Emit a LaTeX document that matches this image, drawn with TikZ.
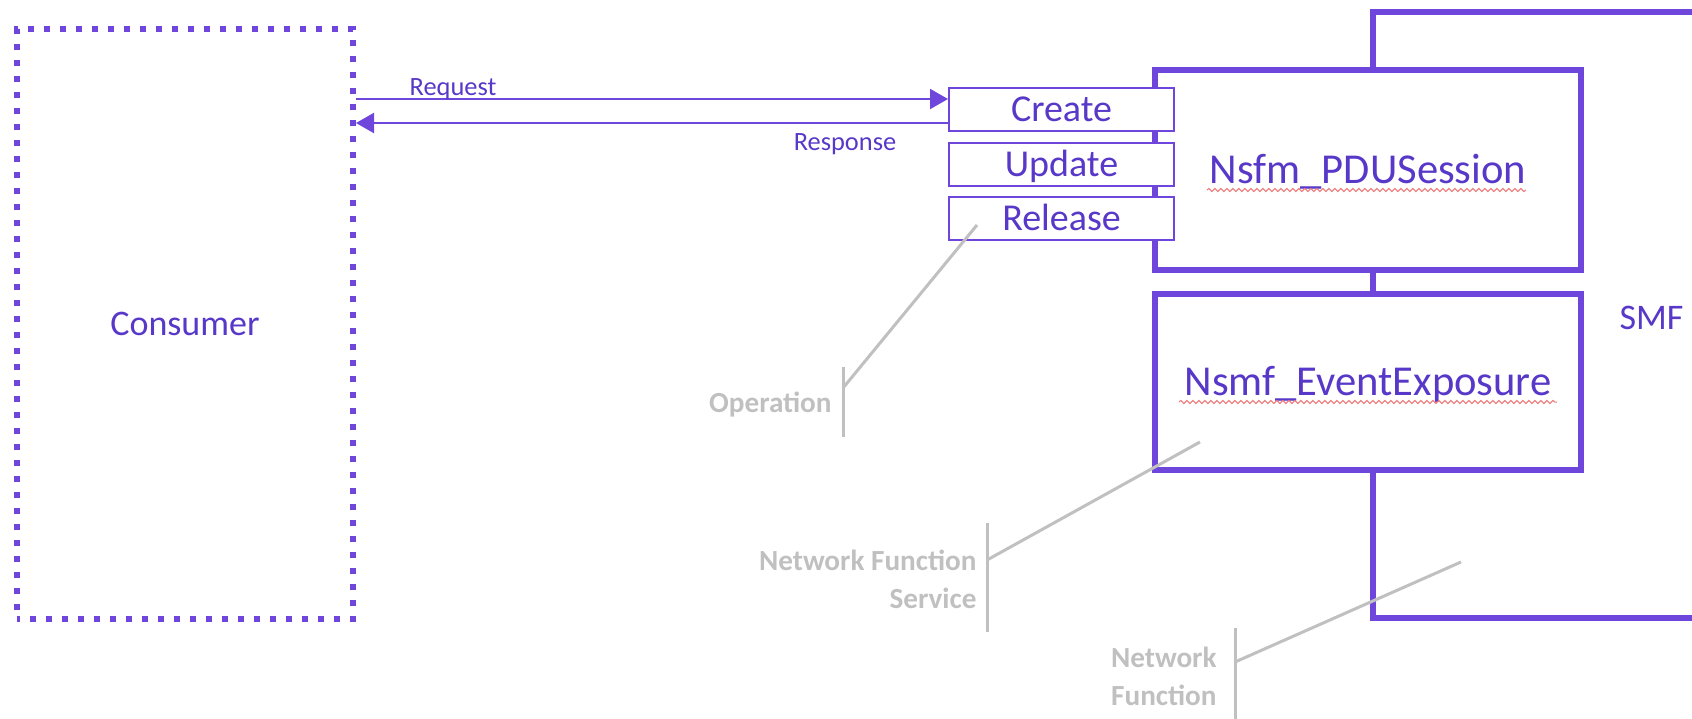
\documentclass[tikz,border=0pt]{standalone}
\usepackage{fontspec}
\setmainfont{Carlito}
\usetikzlibrary{arrows.meta,decorations.pathmorphing}
\definecolor{nfpurple}{RGB}{110,70,220}
\definecolor{nfink}{RGB}{88,56,200}
\definecolor{calloutgrey}{RGB}{192,192,192}
\definecolor{spellred}{RGB}{238,120,120}
\tikzset{
  servicebox/.style={draw=nfpurple, line width=3pt, fill=white, minimum width=213pt,
    inner sep=0pt, text=nfink, font=\fontsize{21.3}{25}\selectfont,
    text height=13.7pt, text depth=0pt},
  opbox/.style={draw=nfpurple, line width=1pt, fill=white, minimum width=112.5pt,
    minimum height=21.5pt, inner sep=0pt, text=nfink, font=\fontsize{19}{22}\selectfont,
    text height=12.2pt, text depth=0pt},
  consumerbox/.style={draw=nfpurple, line width=3pt, dash pattern=on 3pt off 5pt,
    dash phase=1.5pt, minimum width=168pt, minimum height=295pt, inner sep=0pt,
    text=nfink, font=\fontsize{18}{21}\selectfont, text height=11.6pt, text depth=0pt},
  functionframe/.style={draw=nfpurple, line width=3pt},
  biglabel/.style={text=nfink, font=\fontsize{18}{21}\selectfont, inner sep=0pt,
    text height=11.6pt, text depth=0pt},
  message/.style={draw=nfpurple, line width=1pt, -{Triangle[length=9pt,width=10pt]}},
  msglabel/.style={text=nfink, font=\fontsize{13.2}{15}\selectfont, inner sep=0pt,
    text height=8.5pt, text depth=0pt},
  oplabel/.style={text=calloutgrey, font=\bfseries\fontsize{14.6}{19}\selectfont,
    inner sep=0pt, text height=9.4pt, text depth=0pt},
  calloutlabel/.style={text=calloutgrey, font=\bfseries\fontsize{14.6}{19}\selectfont,
    inner sep=0pt, align=right},
  callout/.style={draw=calloutgrey, line width=1.5pt},
  spellcheck/.style={draw=spellred, line width=0.5pt, decorate,
    decoration={snake, amplitude=0.8pt, segment length=3pt}},
}
\begin{document}
\begin{tikzpicture}[x=0.5pt,y=-0.5pt]
\clip (0,0) rectangle (1692,718);

% network function frame (runs past the right edge)
\draw[functionframe] (1373,11.5) rectangle (1760,618);
\node[biglabel] (smf) at (1651.5,318) {SMF};

% services
\node[servicebox, minimum height=100pt] (nsfm) at (1368,170) {Nsfm\_PDUSession};
\node[servicebox, minimum height=88pt] (nsmf) at (1368,382) {Nsmf\_EventExposure};
\draw[spellcheck] (1207,190) -- (1526,190);
\draw[spellcheck] (1179,402) -- (1557,402);

% operations
\node[opbox] (create) at (1061.5,109.5) {Create};
\node[opbox] (update) at (1061.5,164) {Update};
\node[opbox] (release) at (1061.5,218.5) {Release};

% consumer
\node[consumerbox] (consumer) at (185,324) {Consumer};

% request / response
\coordinate (reqlevel) at (0,99);
\coordinate (resplevel) at (0,123);
\draw[message] (consumer.east |- reqlevel) -- (create.west |- reqlevel);
\draw[message] (create.west |- resplevel) -- (consumer.east |- resplevel);
\node[msglabel] (request) at (453,87) {Request};
\node[msglabel] (response) at (845,142) {Response};

% callouts
\node[oplabel, anchor=east] (operation) at (832,403) {Operation};
\coordinate (opbartop) at (843,367);
\coordinate (opbarbot) at (843,437);
\coordinate (opknee) at (843,388);
\coordinate (optip) at (977,225);
\draw[callout] (opbartop) -- (opbarbot);
\draw[callout] (opknee) -- (optip);

\node[calloutlabel, anchor=east] (nfservice) at (977,579) {Network Function\\Service};
\coordinate (nfsbartop) at (987,523);
\coordinate (nfsbarbot) at (987,632);
\coordinate (nfsknee) at (987,560);
\coordinate (nfstip) at (1200,442);
\draw[callout] (nfsbartop) -- (nfsbarbot);
\draw[callout] (nfsknee) -- (nfstip);

\node[calloutlabel, anchor=east] (nf) at (1217,676.5) {Network\\Function};
\coordinate (nfbartop) at (1235,628);
\coordinate (nfbarbot) at (1235,722);
\coordinate (nfknee) at (1235,662);
\coordinate (nftip) at (1461,562);
\draw[callout] (nfbartop) -- (nfbarbot);
\draw[callout] (nfknee) -- (nftip);
\end{tikzpicture}
\end{document}
